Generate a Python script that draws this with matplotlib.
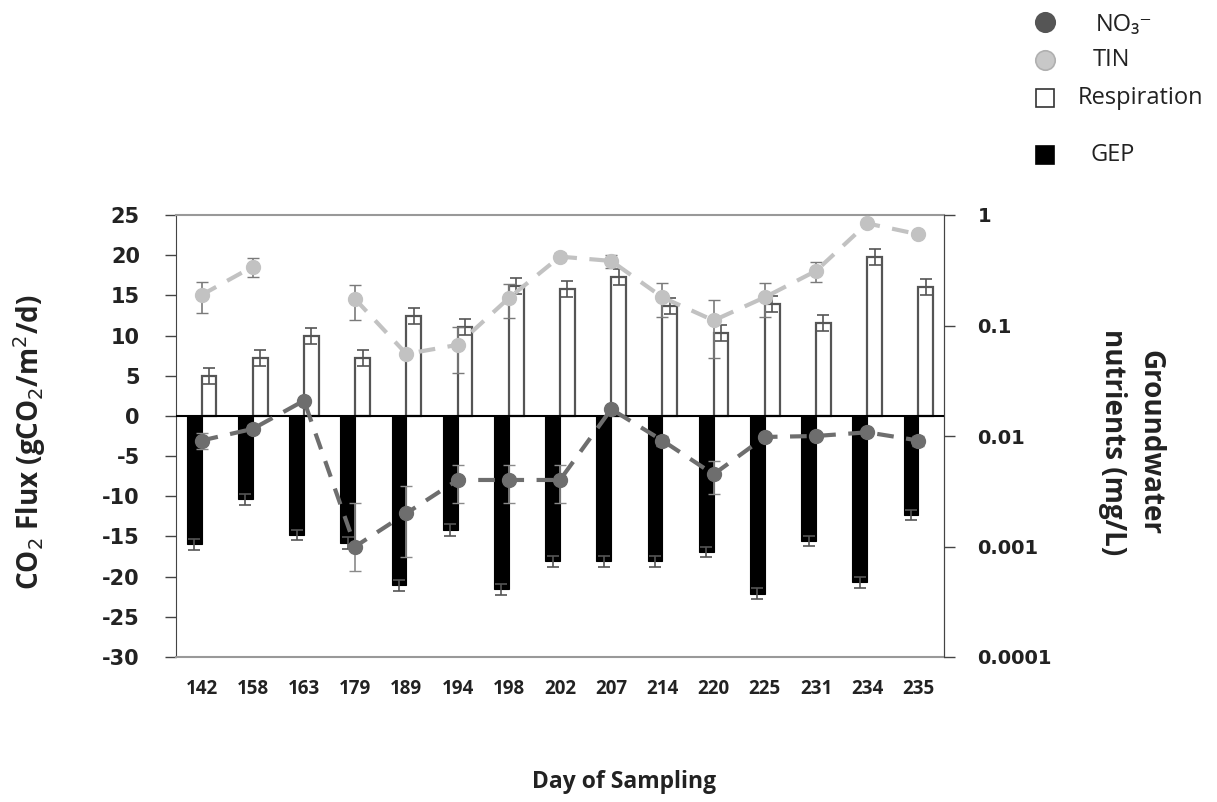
import numpy as np
import matplotlib
matplotlib.use("Agg")
import matplotlib.pyplot as plt
from matplotlib.lines import Line2D

plt.rcParams["axes.unicode_minus"] = False

days = ["142", "158", "163", "179", "189", "194", "198", "202", "207", "214",
        "220", "225", "231", "234", "235"]
respiration = [5.0, 7.2, 10.0, 7.2, 12.4, 11.1, 16.2, 15.8, 17.3, 13.7,
               10.3, 13.9, 11.6, 19.8, 16.0]
respiration_err = [1.0, 1.0, 1.0, 1.0, 1.0, 1.0, 1.0, 1.0, 1.0, 1.0,
                   1.0, 1.0, 1.0, 1.0, 1.0]
gep = [-16.0, -10.4, -14.8, -15.8, -21.1, -14.2, -21.6, -18.1, -18.1, -18.1,
       -16.9, -22.1, -15.6, -20.7, -12.3]
gep_err = [0.7, 0.7, 0.6, 0.7, 0.7, 0.7, 0.7, 0.7, 0.7, 0.7,
           0.6, 0.7, 0.6, 0.7, 0.6]
no3 = [0.0091, 0.0116, 0.0209, 0.0010, 0.0020, 0.0040, 0.0040, 0.0040, 0.0175,
       0.0091, 0.0045, 0.0098, 0.0100, 0.0108, 0.0091]
no3_err_low = [0.0015, 0.0010, 0.0010, 0.0004, 0.0012, 0.0015, 0.0015, 0.0015, 0.0010,
               0.0010, 0.0015, 0.0005, 0.0005, 0.0005, 0.0010]
no3_err_high = [0.0015, 0.0010, 0.0010, 0.0015, 0.0015, 0.0015, 0.0015, 0.0015, 0.0010,
                0.0010, 0.0015, 0.0005, 0.0005, 0.0005, 0.0010]
tin = [0.189, 0.341, np.nan, 0.173, 0.0553, 0.0668, 0.177, 0.42, 0.384, 0.18,
       0.111, 0.18, 0.312, 0.84, 0.669]
tin_err = [0.06, 0.065, 0.0, 0.06, 0.0, 0.03, 0.06, 0.03, 0.05, 0.06,
           0.06, 0.06, 0.065, 0.0, 0.0]

W, H = 1217, 802
fig = plt.figure(figsize=(W / 100, H / 100), dpi=100)
ax = fig.add_axes([176 / W, 1 - 657 / H, (944 - 176) / W, (657 - 215) / H])

x = np.arange(len(days))
bw = 0.29
ax.bar(x - bw / 2, gep, bw, color="black", edgecolor="black", linewidth=0.8,
       yerr=gep_err, error_kw=dict(ecolor="#555555", elinewidth=1.2, capsize=4, capthick=1.2), zorder=2)
ax.bar(x + bw / 2, respiration, bw, color="white", edgecolor="#555555", linewidth=1.6,
       yerr=respiration_err, error_kw=dict(ecolor="#555555", elinewidth=1.2, capsize=4, capthick=1.2), zorder=2)
ax.axhline(0, color="black", linewidth=1.5, zorder=3)

ax.set_ylim(-30, 25)
ax.set_xlim(-0.5, len(days) - 0.5)
ax.set_yticks(np.arange(-30, 26, 5))
ax.set_xticks(x)
ax.set_xticklabels(days, fontfamily="Open Sans", fontweight="bold", fontsize=13.5, color="#222222")
ax.tick_params(axis="x", length=0, pad=16)
ax.tick_params(axis="y", direction="out", length=8, width=1, color="#444444", pad=18)
for lab in ax.get_yticklabels():
    lab.set_fontfamily("DejaVu Sans")
    lab.set_fontweight("bold")
    lab.set_fontsize(15)
    lab.set_color("#222222")
ax.spines["top"].set_color("#999999")
ax.spines["bottom"].set_color("#999999")
ax.spines["left"].set_color("#444444")
ax.spines["right"].set_color("#444444")
ax.spines["top"].set_linewidth(1.5)
ax.spines["bottom"].set_linewidth(1.5)

ax2 = ax.twinx()
ax2.set_yscale("log")
ax2.set_ylim(0.0001, 1)
ax2.errorbar(x, tin, yerr=tin_err, color="#c2c2c2", ecolor="#7a7a7a", elinewidth=1.2, capsize=4,
             linestyle=(0, (4, 3)), linewidth=3, marker="o", markersize=10, zorder=4)
ax2.errorbar(x, no3, yerr=[no3_err_low, no3_err_high], color="#6e6e6e", ecolor="#8a8a8a",
             elinewidth=1.2, capsize=4,
             linestyle=(0, (4, 3)), linewidth=3, marker="o", markersize=10, zorder=5)
ax2.set_yticks([0.0001, 0.001, 0.01, 0.1, 1])
ax2.set_yticklabels(["0.0001", "0.001", "0.01", "0.1", "1"])
ax2.yaxis.set_minor_locator(matplotlib.ticker.NullLocator())
ax2.tick_params(axis="y", direction="out", length=8, width=1, color="#444444", pad=16)
for lab in ax2.get_yticklabels():
    lab.set_fontfamily("DejaVu Sans")
    lab.set_fontweight("bold")
    lab.set_fontsize(14)
    lab.set_color("#222222")
for s in ["top", "bottom", "left"]:
    ax2.spines[s].set_visible(False)
ax2.spines["right"].set_color("#444444")

fig.text(30 / W, 1 - 442 / H, "CO$_2$ Flux (gCO$_2$/m$^2$/d)", rotation=90, ha="center", va="center",
         fontfamily="Open Sans", fontweight="bold", fontsize=20, color="#222222")
fig.text(1131 / W, 1 - 442 / H, "Groundwater\nnutrients (mg/L)", rotation=-90, ha="center", va="center",
         fontfamily="Open Sans", fontweight="bold", fontsize=20, color="#222222", linespacing=1.4)
fig.text(624 / W, 1 - 782 / H, "Day of Sampling", ha="center", va="center",
         fontfamily="Open Sans", fontweight="bold", fontsize=16.5, color="#222222")

# legend
leg_items = [
    (22, "o", "#555555", "#555555", "NO\u2083\u207b", 1096, 25),
    (60, "o", "#c8c8c8", "#b0b0b0", "TIN", 1093, 60),
    (98, "s", "white", "#333333", "Respiration", 1078, 98),
    (155, "s", "black", "black", "GEP", 1091, 155),
]
for yy, mk, fc, ec, txt, tx, ty in leg_items:
    fig.add_artist(Line2D([1045 / W], [1 - yy / H], marker=mk, markersize=14 if mk == "o" else 13,
                          markerfacecolor=fc, markeredgecolor=ec, markeredgewidth=1.2,
                          linestyle="none", transform=fig.transFigure))
    fig.text(tx / W, 1 - ty / H, txt, ha="left", va="center", family=["Open Sans", "DejaVu Sans"],
             fontsize=17, color="#222222")

fig.savefig("out.png", dpi=100)
